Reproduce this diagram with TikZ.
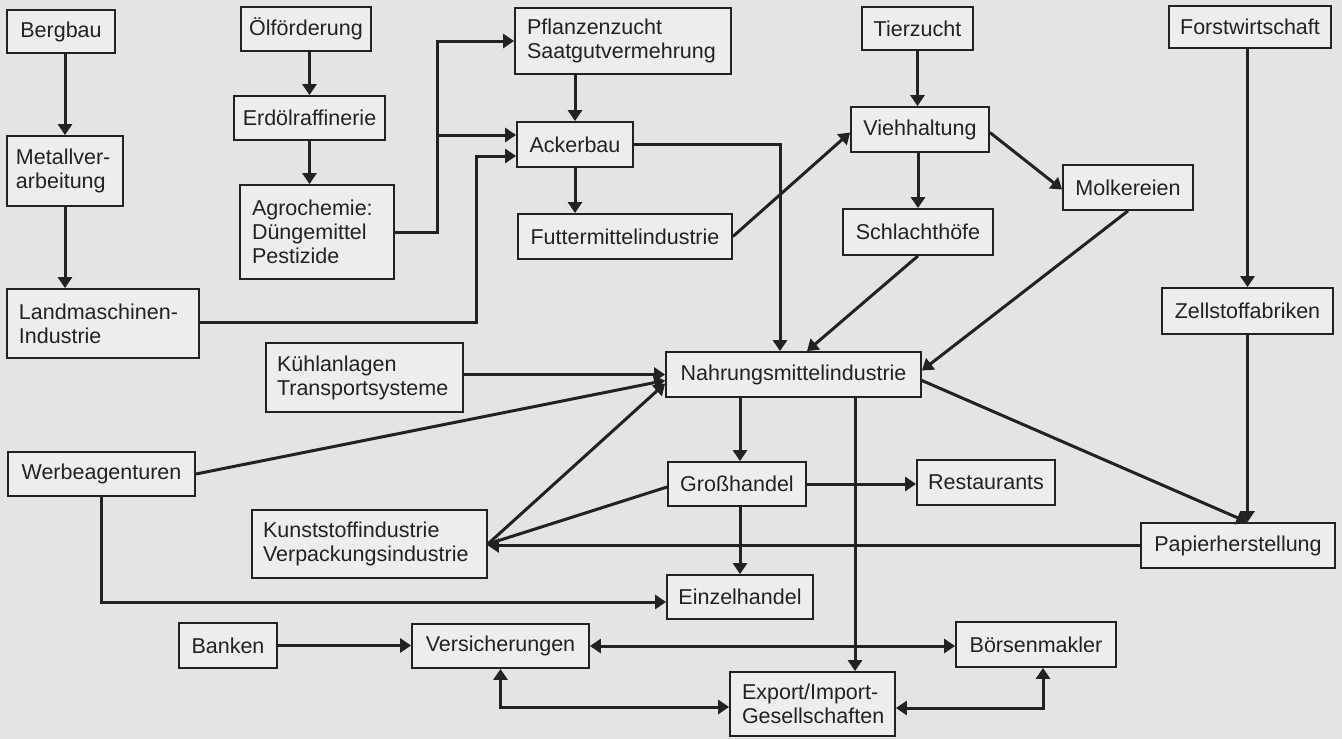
\documentclass[tikz,border=0pt]{standalone}
\usepackage{fontspec}
\setmainfont{Liberation Sans}
\usetikzlibrary{arrows.meta}
\definecolor{bg}{RGB}{228,228,226}
\definecolor{boxfill}{RGB}{237,237,235}
\definecolor{ink}{RGB}{34,34,34}
\begin{document}
\begin{tikzpicture}[x=1pt,y=-1pt,
  box/.style={draw=ink, line width=1.8pt, fill=boxfill, inner sep=0pt,
    font=\fontsize{21.5}{24}\selectfont, text=ink},
  cbox/.style={box, align=center},
  lbox/.style={box, align=left, inner xsep=12pt},
  line/.style={draw=ink, line width=3pt},
  arr/.style={line, -{Triangle[length=11pt,width=14pt]}},
  darr/.style={line, {Triangle[length=11pt,width=14pt]}-{Triangle[length=11pt,width=14pt]}}]
\useasboundingbox (0,0) rectangle (1342,739);
\fill[bg] (0,0) rectangle (1342,739);

% nodes
\node[cbox, minimum width=108pt, minimum height=43pt] (bergbau) at (61,31.5) {Bergbau};
\node[cbox, minimum width=130pt, minimum height=44pt] (oel) at (306,29) {Ölförderung};
\node[lbox, minimum width=216pt, minimum height=66pt, text width=192pt] (pflanz) at (623,41) {Pflanzenzucht\\Saatgutvermehrung};
\node[cbox, minimum width=111pt, minimum height=43pt] (tier) at (917.5,28.5) {Tierzucht};
\node[cbox, minimum width=162pt, minimum height=42pt] (forst) at (1250,27) {Forstwirtschaft};
\node[cbox, minimum width=151pt, minimum height=44pt] (erdoel) at (309.5,118) {Erdölraffinerie};
\node[cbox, minimum width=116pt, minimum height=45pt] (acker) at (575,144.5) {Ackerbau};
\node[cbox, minimum width=138pt, minimum height=45pt] (vieh) at (920,129.5) {Viehhaltung};
\node[lbox, inner xsep=9pt, minimum width=116pt, minimum height=70pt, text width=98pt] (metall) at (65,171) {Metallver-\\arbeitung};
\node[cbox, minimum width=130pt, minimum height=45pt] (molk) at (1128,187.5) {Molkereien};
\node[cbox, minimum width=214pt, minimum height=45pt] (futter) at (625,236.5) {Futtermittelindustrie};
\node[cbox, minimum width=150pt, minimum height=46pt] (schlacht) at (918,232) {Schlachthöfe};
\node[lbox, minimum width=154pt, minimum height=94pt, text width=130pt] (agro) at (317,232) {Agrochemie:\\Düngemittel\\Pestizide};
\node[cbox, minimum width=171pt, minimum height=46pt] (zell) at (1247.5,311) {Zellstoffabriken};
\node[lbox, minimum width=192pt, minimum height=69pt, text width=168pt] (land) at (103,323.5) {Landmaschinen-\\Industrie};
\node[lbox, inner xsep=11pt, minimum width=197pt, minimum height=69pt, text width=175pt] (kuehl) at (364.5,377.5) {Kühlanlagen\\Transportsysteme};
\node[cbox, minimum width=255pt, minimum height=45pt] (nahrung) at (793.5,374.5) {Nahrungsmittelindustrie};
\node[cbox, minimum width=187pt, minimum height=44pt] (werbe) at (101.5,474) {Werbeagenturen};
\node[cbox, minimum width=138pt, minimum height=44pt] (gross) at (737,484) {Großhandel};
\node[cbox, minimum width=138pt, minimum height=45pt] (rest) at (986,482.5) {Restaurants};
\node[lbox, inner xsep=11pt, minimum width=235pt, minimum height=68pt, text width=213pt] (kunst) at (369.5,544) {Kunststoffindustrie\\Verpackungsindustrie};
\node[cbox, minimum width=194pt, minimum height=45pt] (papier) at (1238,545.5) {Papierherstellung};
\node[cbox, minimum width=146pt, minimum height=44pt] (einzel) at (740,597) {Einzelhandel};
\node[cbox, minimum width=98pt, minimum height=45pt] (banken) at (228,645.5) {Banken};
\node[cbox, minimum width=177pt, minimum height=44pt] (vers) at (500.5,646) {Versicherungen};
\node[cbox, minimum width=160pt, minimum height=45pt] (boerse) at (1036,644.5) {Börsenmakler};
\node[lbox, minimum width=165pt, minimum height=64pt, text width=141pt] (export) at (812.5,704) {Export/Import-\\Gesellschaften};

% helper coordinates
\coordinate (j1) at (437,0);
\coordinate (j2) at (476,322);
\coordinate (j3) at (780,0);
\coordinate (j4) at (855,0);
\coordinate (a1) at ([yshift=9.5pt]acker.west);
\coordinate (a2) at ([yshift=-11.5pt]acker.west);
\coordinate (k1) at ([yshift=3pt]kuehl.east);
\coordinate (e1) at ([yshift=-5pt]einzel.west);
\coordinate (e2) at ([yshift=-3pt]export.west);
\coordinate (e3) at ([yshift=-4pt]export.east);
\coordinate (b1) at ([xshift=7pt]boerse.south);

% connectors
\draw[arr] (metall.north |- bergbau.south) -- (metall.north);
\draw[arr] (metall.south) -- (metall.south |- land.north);
\draw[arr] (erdoel.north |- oel.south) -- (erdoel.north);
\draw[arr] (erdoel.south) -- (erdoel.south |- agro.north);
\draw[arr] (agro.east) -| (j1 |- pflanz.west) -- (pflanz.west);
\draw[arr] (j1 |- a1) -- (a1);
\draw[arr] (land.east |- j2) -- (j2) -- (j2 |- a2) -- (a2);
\draw[arr] (acker.north |- pflanz.south) -- (acker.north);
\draw[arr] (acker.south) -- (acker.south |- futter.north);
\draw[arr] (acker.east) -| (j3 |- nahrung.north);
\draw[arr] (futter.east) -- ([yshift=-3pt]vieh.west);
\draw[arr] (tier.south) -- (tier.south |- vieh.north);
\draw[arr] (schlacht.north |- vieh.south) -- (schlacht.north);
\draw[arr] ([yshift=-3pt]vieh.east) -- ([yshift=-2pt]molk.west);
\draw[arr] (molk.south) -- ([yshift=4pt]nahrung.east);
\draw[arr] (schlacht.south) -- ([xshift=13.5pt]nahrung.north);
\draw[arr] (forst.south -| zell.north) -- (zell.north);
\draw[arr] (zell.south) -- (zell.south |- papier.north);
\draw[arr] ([yshift=-6pt]nahrung.east) -- (zell.south |- papier.north);
\draw[arr] (k1) -- (k1 -| nahrung.west);
\draw[arr] (werbe.east) -- ([yshift=-6pt]nahrung.west);
\draw[arr] (kunst.east) -- ([yshift=-9pt]nahrung.west);
\draw[line] (kunst.east) -- ([yshift=-3pt]gross.west);
\draw[arr] (papier.west) -- (papier.west -| kunst.east);
\draw[arr] (werbe.south) |- (e1);
\draw[arr] (einzel.north |- nahrung.south) -- (einzel.north |- gross.north);
\draw[arr] (einzel.north |- gross.south) -- (einzel.north);
\draw[arr] (gross.east) -- (gross.east -| rest.west);
\draw[arr] (j4 |- nahrung.south) -- (j4 |- export.north);
\draw[arr] (banken.east) -- (banken.east -| vers.west);
\draw[darr] (vers.east) -- (vers.east -| boerse.west);
\draw[darr] (vers.south) |- (e2);
\draw[darr] (e3) -| (b1);
\end{tikzpicture}
\end{document}
